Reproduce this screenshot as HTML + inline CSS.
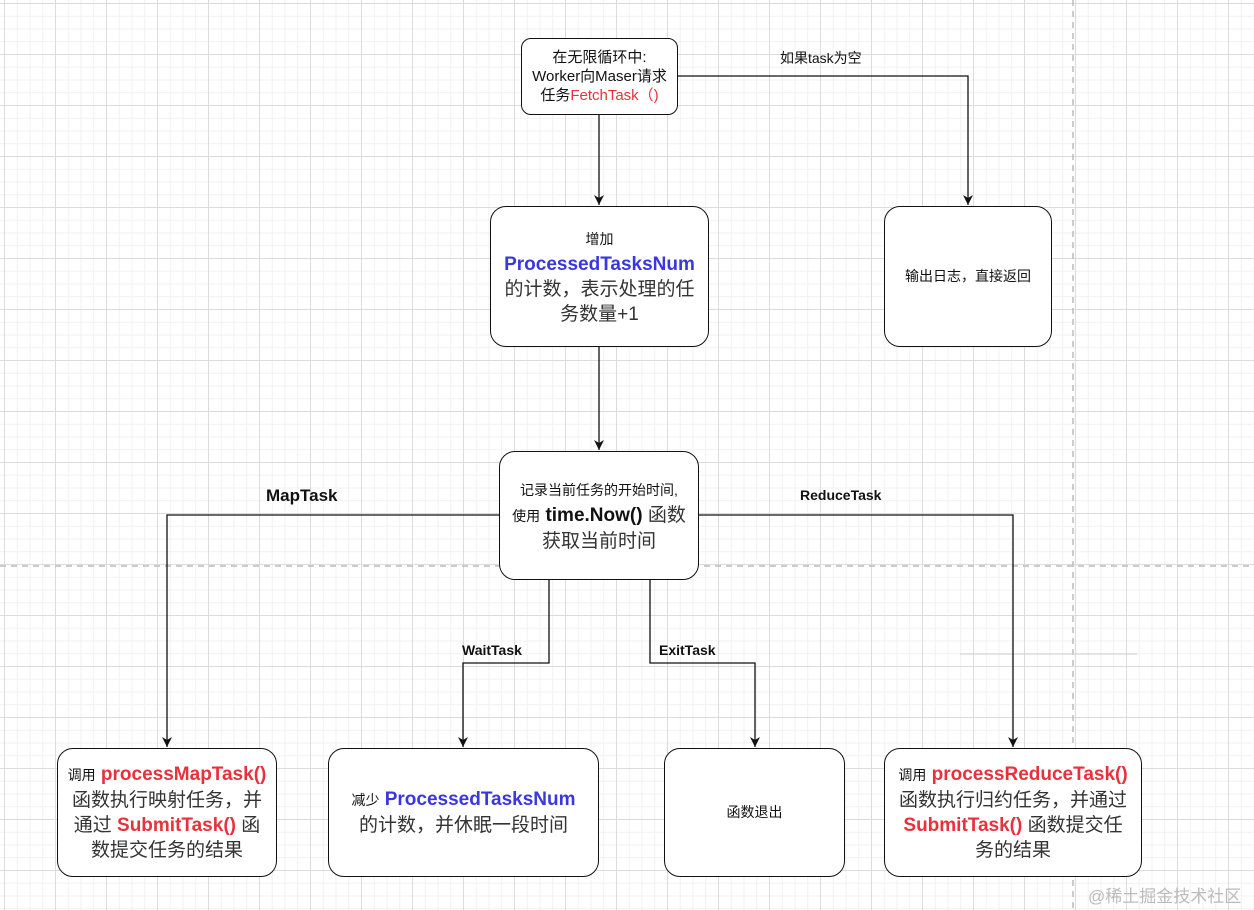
<!DOCTYPE html>
<html><head><meta charset="utf-8"><style>
body{margin:0;width:1254px;height:910px;overflow:hidden;background:#fff;font-family:"Liberation Sans","Noto Sans CJK SC",sans-serif;}
#bg{position:absolute;left:0;top:0;width:1254px;height:910px;
background-image:linear-gradient(#dcdcdc 1px,transparent 1px),linear-gradient(90deg,#dcdcdc 1px,transparent 1px),linear-gradient(#f1f1f1 1px,transparent 1px),linear-gradient(90deg,#f1f1f1 1px,transparent 1px);
background-size:51px 51px,51px 51px,12.75px 12.75px,12.75px 12.75px;background-position:4px 3px;}
.b{position:absolute;box-sizing:border-box;border:1.5px solid #111;border-radius:16px;background:#fff;display:flex;align-items:center;justify-content:center;text-align:center;color:#333;font-size:19px;line-height:25px;padding:0 16px;}
.r{color:#e8313a;font-weight:bold}.bl{color:#3a36e0;font-weight:bold}.s{font-size:14px;color:#111}
.l{position:absolute;font-size:14px;color:#111;white-space:nowrap}
</style></head><body>
<div id="bg"></div>
<svg width="1254" height="910" style="position:absolute;left:0;top:0">
<defs><marker id="a" markerWidth="12" markerHeight="12" refX="10" refY="5" orient="auto" markerUnits="userSpaceOnUse"><path d="M0,0 L10,5 L0,10 L3,5 Z" fill="#111"/></marker></defs>
<line x1="0" y1="566" x2="1254" y2="566" stroke="#bbb" stroke-width="1.5" stroke-dasharray="6,5"/>
<line x1="1073" y1="0" x2="1073" y2="910" stroke="#bbb" stroke-width="1.5" stroke-dasharray="6,5"/>
<line x1="960" y1="654" x2="1137" y2="654" stroke="#ccc"/>
<g fill="none" stroke="#111" stroke-width="1.3">
<path d="M599,115 V205" marker-end="url(#a)"/>
<path d="M678,76 H968 V205" marker-end="url(#a)"/>
<path d="M599,347 V450" marker-end="url(#a)"/>
<path d="M499,515 H167 V747" marker-end="url(#a)"/>
<path d="M699,515 H1013 V747" marker-end="url(#a)"/>
<path d="M549,580 V663 H463 V747" marker-end="url(#a)"/>
<path d="M650,580 V663 H755 V747" marker-end="url(#a)"/>
</g></svg>
<div class="b" style="left:521px;top:38px;width:157px;height:77px;border-radius:10px;font-size:15px;line-height:19px;color:#111;padding:0"><div>在无限循环中:<br>Worker向Maser请求<br>任务<span style="color:#e8313a">FetchTask（)</span></div></div>
<div class="b" style="left:490px;top:206px;width:219px;height:141px"><div><span class="s">增加</span><br><span class="bl">ProcessedTasksNum</span><br>的计数，表示处理的任务数量+1</div></div>
<div class="b" style="left:884px;top:206px;width:168px;height:141px;padding:0"><span class="s">输出日志，直接返回</span></div>
<div class="b" style="left:499px;top:451px;width:200px;height:129px;padding:0 4px"><div><span class="s">记录当前任务的开始时间,</span><br><span class="s">使用</span> <b style="color:#111">time.Now()</b> 函数<br>获取当前时间</div></div>
<div class="b" style="left:57px;top:748px;width:220px;height:129px;padding:0 4px"><div><span class="s">调用</span> <span class="r">processMapTask()</span><br>函数执行映射任务，并<br>通过 <span class="r">SubmitTask()</span> 函<br>数提交任务的结果</div></div>
<div class="b" style="left:328px;top:748px;width:271px;height:129px;padding:0"><div><span class="s">减少</span> <span class="bl">ProcessedTasksNum</span><br>的计数，并休眠一段时间</div></div>
<div class="b" style="left:664px;top:748px;width:181px;height:129px;padding:0"><span class="s">函数退出</span></div>
<div class="b" style="left:884px;top:748px;width:258px;height:129px;padding:0"><div><span class="s">调用</span> <span class="r">processReduceTask()</span><br>函数执行归约任务，并通过<br><span class="r">SubmitTask()</span> 函数提交任<br>务的结果</div></div>
<div class="l" style="left:780px;top:48px">如果task为空</div>
<div class="l" style="left:266px;top:486px;font-size:17px;font-weight:bold">MapTask</div>
<div class="l" style="left:800px;top:487px;font-weight:bold">ReduceTask</div>
<div class="l" style="left:462px;top:642px;font-weight:bold">WaitTask</div>
<div class="l" style="left:659px;top:642px;font-weight:bold">ExitTask</div>
<div class="l" style="left:1088px;top:882px;font-size:17px;color:#bbb">@稀土掘金技术社区</div>
</body></html>
